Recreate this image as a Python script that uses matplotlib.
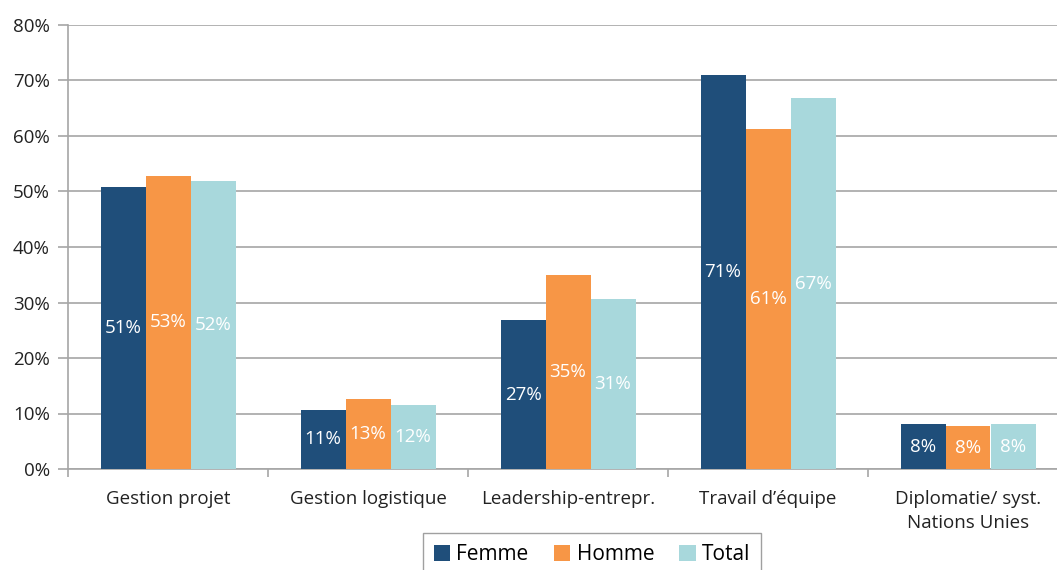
import matplotlib
matplotlib.use("Agg")
import matplotlib.pyplot as plt
import numpy as np

categories = ["Gestion projet", "Gestion logistique", "Leadership-entrepr.",
              "Travail d\u2019\u00e9quipe", "Diplomatie/ syst.\nNations Unies"]
series_names = ["Femme", "Homme", "Total"]
femme = [50.8, 10.7, 26.8, 71.0, 8.1]
homme = [52.8, 12.7, 35.0, 61.2, 7.7]
total = [51.9, 11.6, 30.7, 66.8, 8.1]
y_ticks = [0, 10, 20, 30, 40, 50, 60, 70, 80]
colors = ["#1F4E7A", "#F79646", "#A8D8DC"]

plt.rcParams['font.family'] = ['Open Sans', 'DejaVu Sans']

fig = plt.figure(figsize=(10.57, 5.70), dpi=100)
ax = fig.add_axes([68/1057, 101/570, 1000/1057, 444/570])

x = np.arange(len(categories))
w = 0.225
grid_c = "#A6A6A6"
for i, (vals, name, c) in enumerate(zip([femme, homme, total], series_names, colors)):
    pos = x + (i - 1) * w
    ax.bar(pos, vals, width=w, color=c, label=name, zorder=3)
    for p, v in zip(pos, vals):
        ax.text(p, v / 2, f"{round(v):d}%", ha="center", va="center",
                color="white", fontsize=13.5, zorder=4)

ax.set_xlim(-0.5, len(categories) - 0.5)
ax.set_ylim(0, 80)
ax.set_yticks(y_ticks)
ax.set_yticklabels([f"{t}%" for t in y_ticks], fontsize=13.5, color="#222222")
ax.yaxis.grid(True, color=grid_c, linewidth=1.2, zorder=0)
ax.tick_params(axis="y", length=7, color=grid_c, width=1.2, pad=6)

ax.set_xticks(x)
ax.set_xticklabels(categories, fontsize=13.5, color="#222222", linespacing=1.45)
ax.tick_params(axis="x", length=0, pad=15)
ax.set_xticks(np.arange(len(categories) + 1) - 0.5, minor=True)
ax.tick_params(axis="x", which="minor", length=6, color=grid_c, width=1.2)

for s in ["top", "right"]:
    ax.spines[s].set_visible(False)
ax.spines["left"].set_color(grid_c)
ax.spines["left"].set_linewidth(1.2)
ax.spines["bottom"].set_color(grid_c)
ax.spines["bottom"].set_linewidth(1.2)

leg = fig.legend(loc="upper center", bbox_to_anchor=(592/1057, 47/570), ncol=3,
                 fontsize=15, frameon=True, fancybox=False, edgecolor="#888888",
                 handlelength=0.8, handleheight=0.8, handletextpad=0.3,
                 columnspacing=1.2, borderpad=0.5)
leg.get_frame().set_linewidth(1.0)

fig.savefig("out.png", dpi=100)
